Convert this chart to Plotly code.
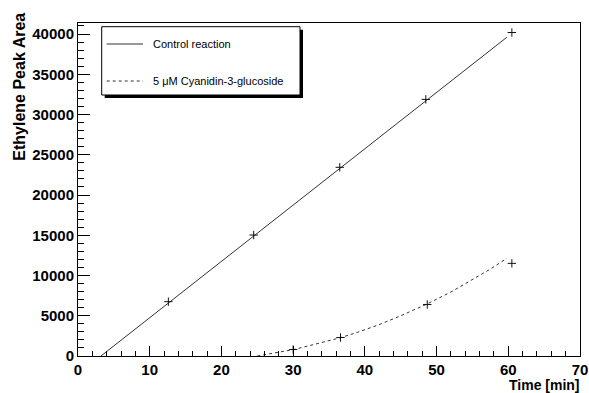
import plotly.graph_objects as go

# ---- data ----
ctrl_t = [12.6, 24.5, 36.5, 48.5, 60.5]
ctrl_area = [6750, 15030, 23440, 31880, 40190]
ctrl_fit_t = [3.2, 59.8]
ctrl_fit_area = [0, 39600]

cy3g_t = [30.0, 36.6, 48.7, 60.5]
cy3g_area = [800, 2300, 6400, 11510]
cy3g_fit_t = [25.0, 27.5, 30.0, 33.0, 36.5, 39.0, 42.0, 45.0, 48.6, 52.0, 55.0, 57.5, 59.8]
cy3g_fit_area = [0, 370, 790, 1450, 2250, 2950, 3900, 5000, 6430, 7950, 9450, 10800, 12140]

x_ticks = [0, 10, 20, 30, 40, 50, 60, 70]
y_ticks = [0, 5000, 10000, 15000, 20000, 25000, 30000, 35000, 40000]
y_tick_labels = ["0", "5000", "10000", "15000", "20000", "25000", "30000", "35000", "40000"]
x_tick_labels = ["0", "10", "20", "30", "40", "50", "60", "70"]

legend_labels = ["Control reaction", "5 \u03bcM Cyanidin-3-glucoside"]

W, H = 589, 393
PL, PR, PT, PB = 78, 580, 23, 356   # plot frame in page pixels
L, T = PL, PT
R = W - PR
B = H - PB
PW, PH = PR - PL, PB - PT

def fx(px):
    return (px - PL) / PW

def fy(py):
    return (PB - py) / PH

FONT = "Liberation Sans, Arial, Helvetica, sans-serif"

fig = go.Figure()

fig.add_trace(go.Scatter(x=ctrl_fit_t, y=ctrl_fit_area, mode="lines",
                         line=dict(color="#333", width=1), showlegend=False))
fig.add_trace(go.Scatter(x=cy3g_fit_t, y=cy3g_fit_area, mode="lines",
                         line=dict(color="#333", width=1, dash="3px,3px"), showlegend=False))
fig.add_trace(go.Scatter(x=ctrl_t, y=ctrl_area, mode="markers",
                         marker=dict(symbol="cross-thin", size=6, line=dict(color="#111", width=1)),
                         showlegend=False))
fig.add_trace(go.Scatter(x=cy3g_t, y=cy3g_area, mode="markers",
                         marker=dict(symbol="cross-thin", size=6, line=dict(color="#111", width=1)),
                         showlegend=False))

axis_common = dict(showgrid=False, zeroline=False, showline=True, linecolor="#000", linewidth=1,
                   mirror=True, ticks="inside", tickcolor="#000", tickwidth=1, automargin=False,
                   tickfont=dict(family=FONT, size=15, color="#000", weight="bold"))

fig.update_xaxes(range=[0, 70], tickvals=x_ticks, ticktext=x_tick_labels, ticklen=10,
                 minor=dict(dtick=2, ticks="inside", ticklen=5, tickcolor="#000", tickwidth=1),
                 **axis_common)
fig.update_yaxes(range=[0, 41370], tickvals=y_ticks, ticktext=y_tick_labels, ticklen=12,
                 minor=dict(dtick=1000, ticks="inside", ticklen=6, tickcolor="#000", tickwidth=1),
                 **axis_common)

shapes = []
# legend shadow and box
shapes.append(dict(type="rect", xref="paper", yref="paper",
                   x0=fx(104.7), x1=fx(303), y0=fy(98), y1=fy(29.7),
                   fillcolor="#000", line=dict(width=0)))
shapes.append(dict(type="rect", xref="paper", yref="paper",
                   x0=fx(101.7), x1=fx(300), y0=fy(95), y1=fy(26.7),
                   fillcolor="#fff", line=dict(color="#000", width=1)))
shapes.append(dict(type="line", xref="paper", yref="paper",
                   x0=fx(106.7), x1=fx(143), y0=fy(44), y1=fy(44),
                   line=dict(color="#333", width=1)))
shapes.append(dict(type="line", xref="paper", yref="paper",
                   x0=fx(106.7), x1=fx(143), y0=fy(81), y1=fy(81),
                   line=dict(color="#333", width=1, dash="3px,3px")))

annotations = [
    dict(xref="paper", yref="paper", x=fx(150.7), y=fy(44), text=legend_labels[0],
         showarrow=False, xanchor="left", yanchor="middle",
         font=dict(family=FONT, size=11, color="#000")),
    dict(xref="paper", yref="paper", x=fx(150.7), y=fy(81), text=legend_labels[1],
         showarrow=False, xanchor="left", yanchor="middle",
         font=dict(family=FONT, size=11, color="#000")),
    dict(xref="paper", yref="paper", x=fx(582), y=fy(375), text="Time [min]",
         showarrow=False, xanchor="right", yanchor="top",
         font=dict(family=FONT, size=14, color="#000", weight="bold")),
    dict(xref="paper", yref="paper", x=fx(19.7), y=fy(11), text="Ethylene Peak Area",
         showarrow=False, xanchor="center", yanchor="top", textangle=-90,
         font=dict(family=FONT, size=16, color="#000", weight="bold")),
]

fig.update_layout(width=W, height=H, margin=dict(l=L, r=R, t=T, b=B, autoexpand=False),
                  paper_bgcolor="#fff", plot_bgcolor="#fff",
                  shapes=shapes, annotations=annotations, showlegend=False)

fig.write_html("out.html", config={"displayModeBar": False},
               post_script="document.body.style.margin='0';document.body.style.overflow='hidden';")
